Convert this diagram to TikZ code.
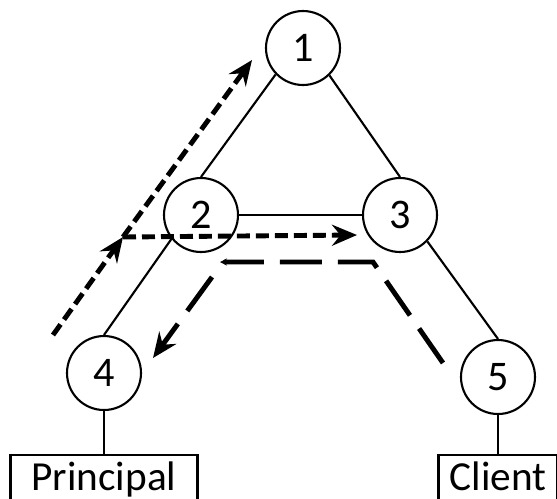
\documentclass[tikz,border=0pt]{standalone}
\usepackage{fontspec}
\setmainfont{Carlito}
\usetikzlibrary{positioning}
\usetikzlibrary{arrows.meta}
\tikzstyle{hop} = [circle, minimum size=1.48cm, inner sep=0pt, draw=black, line width=1.2pt, fill=white, font=\fontsize{24}{28}\selectfont]
\tikzstyle{party} = [rectangle, minimum height=0pt, inner xsep=0pt, inner ysep=0.14cm, text height=0.56cm, text depth=0.2cm, draw=black, line width=1.2pt, font=\fontsize{23.5}{28}\selectfont]
\tikzstyle{link} = [line width=1.2pt]
\tikzstyle{fwd} = [line width=2.8pt, dash pattern=on 0.26cm off 0.12cm, -{Stealth[length=0.5cm,width=0.42cm,inset=0.17cm]}]
\tikzstyle{back} = [line width=2.8pt, dash pattern=on 0.84cm off 0.32cm, -{Stealth[length=0.5cm,width=0.42cm,inset=0.17cm]}]

\begin{document}
\begin{tikzpicture}[x=0.02cm, y=-0.02cm]
        \useasboundingbox (0,0) rectangle (557,498);
        \clip (0,0) rectangle (557,498);
        \node (c1) [hop] at (303,48) {1};
        \node (c2) [hop] at (201,215) {2};
        \node (c3) [hop] at (400,215) {3};
        \node (c4) [hop] at (104,373) {4};
        \node (c5) [hop] at (498,377) {5};
        \node (principal) [party, minimum width=3.74cm, below=0.86cm of c4] {Principal};
        \node (client) [party, minimum width=2.38cm, below=0.78cm of c5] {Client};
        \draw [link] (c1.-136) -- (c2.north);
        \draw [link] (c2.-141) -- (c4.north);
        \draw [link] (c1.-46) -- (c3.north);
        \draw [link] (c3.-44) -- (c5.north);
        \draw [link] (c2) -- (c3);
        \draw [link] (c4) -- (principal);
        \draw [link] (c5) -- (client);
        % request path
        \coordinate (s1) at (53,335);
        \coordinate (s2) at (123,237);
        \coordinate (s3) at (252,60);
        \coordinate (s4) at (357,235);
        \draw [fwd] (s1) -- (s2);
        \draw [fwd] (s2) -- (s3);
        \draw [fwd] (s2) -- (s4);
        % reply path
        \coordinate (r1) at (443,363);
        \coordinate (r2) at (373,262);
        \coordinate (r3) at (220,262);
        \coordinate (r4) at (212,277);
        \coordinate (r5) at (153,358);
        \draw [back, -{Stealth[length=0.14cm,width=0.14cm]}] (r1) -- (r2) -- (r3);
        \draw [back] (r4) -- (r5);
    \end{tikzpicture}
\end{document}
